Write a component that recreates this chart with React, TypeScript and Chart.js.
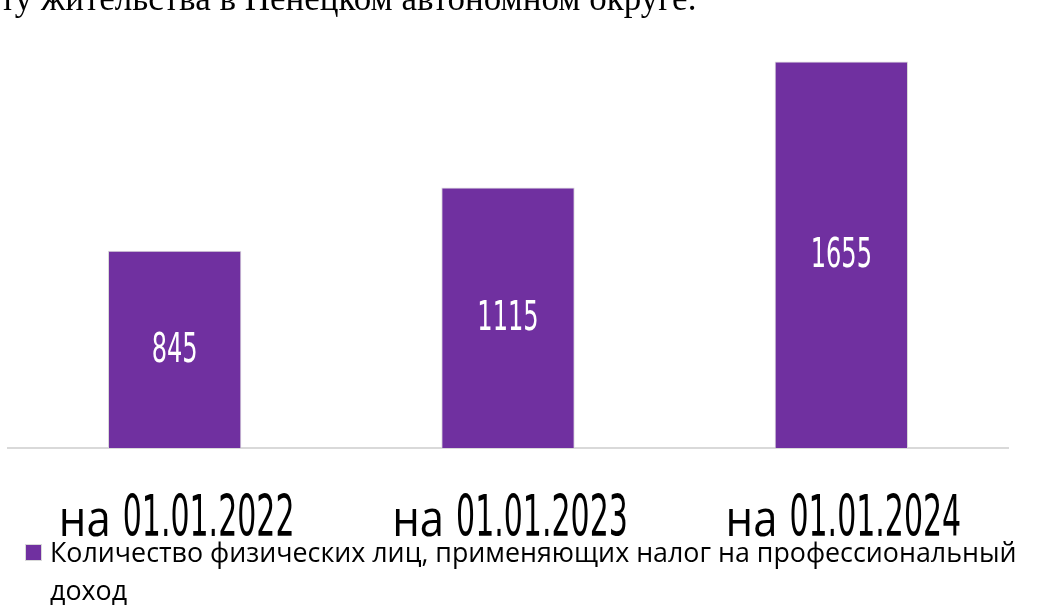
import React, { useEffect, useRef } from "react";
import { Chart, registerables } from "chart.js";

Chart.register(...registerables);

const categories = ["на 01.01.2022", "на 01.01.2023", "на 01.01.2024"];
const seriesLabel = "Количество физических лиц, применяющих налог на профессиональный доход";
const seriesValues = [845, 1115, 1655];
const headerText = "ту жительства в Ненецком автономном округе.";

const BAR_COLOR = "#7030a0";
const NARROW = "'Liberation Sans Narrow', 'DejaVu Sans Condensed', 'Liberation Sans', sans-serif";
const SANS = "'Open Sans', 'Noto Sans', sans-serif";

const labelPlugin = {
  id: "customLabels",
  afterDatasetsDraw(chart: any) {
    const ctx = chart.ctx;
    const meta = chart.getDatasetMeta(0);
    const xScale = chart.scales.x;
    const area = chart.chartArea;
    // value labels inside bars
    ctx.save();
    ctx.fillStyle = "#ffffff";
    ctx.font = `40px ${NARROW}`;
    ctx.textAlign = "center";
    ctx.textBaseline = "middle";
    meta.data.forEach((bar: any, i: number) => {
      const v = chart.data.datasets[0].data[i];
      const cy = (bar.y + bar.base) / 2 + 2;
      ctx.save();
      ctx.translate(bar.x, cy);
      ctx.scale(0.67, 1);
      ctx.fillText(String(v), 0, 0);
      ctx.restore();
    });
    ctx.restore();
    // category labels: prefix word + date
    ctx.save();
    ctx.fillStyle = "#000000";
    ctx.textAlign = "left";
    ctx.textBaseline = "alphabetic";
    const baseY = area.bottom + 88;
    const gap = 12;
    const preFont = `52px ${SANS}`;
    const restFont = `57px ${NARROW}`;
    const preScale = 0.84;
    const restScale = 0.585;
    chart.data.labels.forEach((lab: string, i: number) => {
      const x = xScale.getPixelForValue(i);
      const sp = lab.indexOf(" ");
      const pre = lab.slice(0, sp);
      const rest = lab.slice(sp + 1);
      ctx.font = preFont;
      const preW = ctx.measureText(pre).width * preScale;
      ctx.font = restFont;
      const restW = ctx.measureText(rest).width * restScale;
      const total = preW + gap + restW;
      const x0 = x + 2 - total / 2;
      ctx.save();
      ctx.font = preFont;
      ctx.translate(x0, baseY);
      ctx.scale(preScale, 1);
      ctx.fillText(pre, 0, 0);
      ctx.restore();
      ctx.save();
      ctx.font = restFont;
      ctx.translate(x0 + preW + gap, baseY);
      ctx.scale(restScale, 1);
      ctx.fillText(rest, 0, 0);
      ctx.restore();
    });
    ctx.restore();
  },
};

export default function App() {
  const ref = useRef<HTMLCanvasElement | null>(null);
  useEffect(() => {
    if (!ref.current) return;
    const chart = new Chart(ref.current, {
      type: "bar",
      data: {
        labels: categories,
        datasets: [
          {
            label: seriesLabel,
            data: seriesValues,
            backgroundColor: BAR_COLOR,
            borderColor: "#d9d9d9",
            borderWidth: 1,
            barPercentage: 1,
            categoryPercentage: 0.4,
          },
        ],
      },
      options: {
        animation: false,
        responsive: false,
        maintainAspectRatio: false,
        layout: { padding: { left: 8, right: 42, top: 51, bottom: 160 } },
        plugins: { legend: { display: false }, tooltip: { enabled: false } },
        scales: {
          x: {
            display: true,
            ticks: { display: false },
            grid: { display: false, drawTicks: false },
            border: { display: true, color: "#d9d9d9", width: 2 },
          },
          y: {
            display: false,
            min: 0,
            max: 1700,
          },
        },
      },
      plugins: [labelPlugin],
    });
    return () => chart.destroy();
  }, []);

  return (
    <div
      style={{
        position: "absolute",
        left: 0,
        top: 0,
        width: 1050,
        height: 608,
        overflow: "hidden",
        background: "#ffffff",
      }}
    >
      <canvas ref={ref} width={1050} height={608} style={{ position: "absolute", left: 0, top: 0 }} />
      <div
        style={{
          position: "absolute",
          left: 0,
          top: -21,
          fontFamily: "'Liberation Serif', serif",
          fontSize: 35,
          lineHeight: "40px",
          color: "#000",
          whiteSpace: "nowrap",
        }}
      >
        {headerText}
      </div>
      <div
        style={{
          position: "absolute",
          left: 25,
          top: 544,
          width: 17,
          height: 17,
          background: BAR_COLOR,
          boxSizing: "border-box",
          border: "1px solid #d9d9d9",
        }}
      />
      <div
        style={{
          position: "absolute",
          left: 50,
          top: 533,
          width: 990,
          fontFamily: "'Open Sans', sans-serif",
          fontSize: 26.8,
          lineHeight: "38px",
          color: "#000",
        }}
      >
        {seriesLabel}
      </div>
    </div>
  );
}
